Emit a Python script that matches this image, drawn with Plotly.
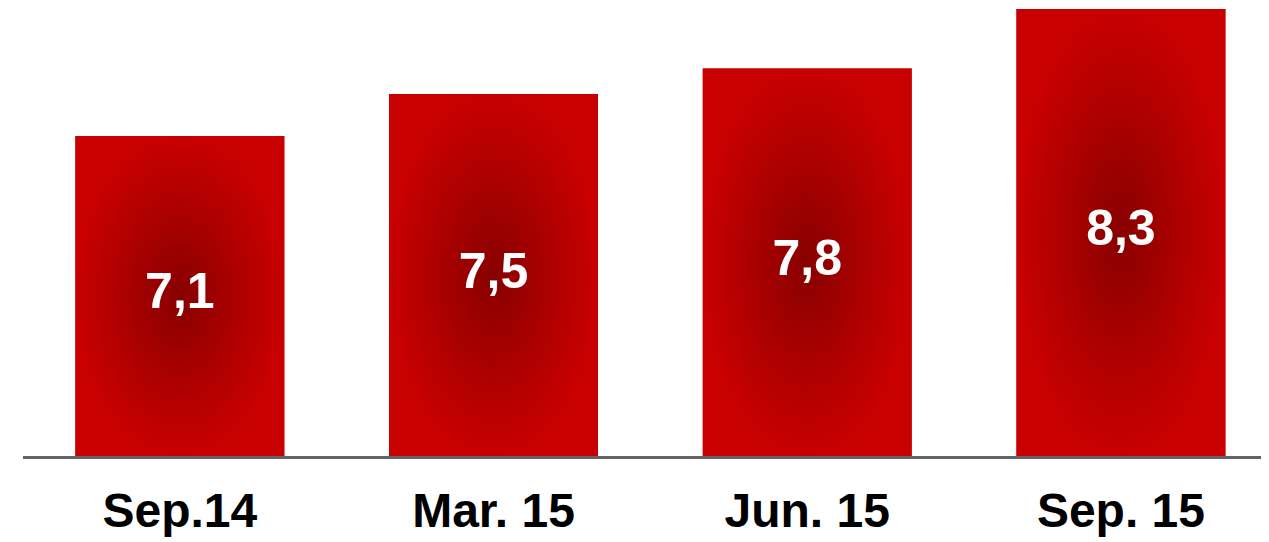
import plotly.graph_objects as go

categories = ["Sep.14", "Mar. 15", "Jun. 15", "Sep. 15"]
values = [7.15, 7.53, 7.76, 8.30]
value_labels = ["7,1", "7,5", "7,8", "8,3"]

Y_MIN = 4.251
Y_MAX = 8.309
BAR_W = 0.666
FONT = "Liberation Sans, Arial, sans-serif"

fig = go.Figure()
xs = list(range(len(categories)))

# base bars (solid)
fig.add_trace(go.Bar(
    x=xs, y=[v - Y_MIN for v in values], base=Y_MIN, width=BAR_W,
    marker=dict(color="#c40000", line=dict(width=0)),
    hoverinfo="skip", showlegend=False,
))

# radial-gradient overlays on each bar
for x, v in zip(xs, values):
    x0, x1 = x - BAR_W / 2, x + BAR_W / 2
    fig.add_trace(go.Scatter(
        x=[x0, x1, x1, x0, x0], y=[Y_MIN, Y_MIN, v, v, Y_MIN],
        mode="lines", line=dict(width=0), fill="toself",
        fillgradient=dict(type="radial",
                          colorscale=[[0, "#880000"], [0.6, "#b00000"], [1, "#c80000"]]),
        hoverinfo="skip", showlegend=False, cliponaxis=False,
    ))

# value labels centered in bars
fig.add_trace(go.Scatter(
    x=xs, y=[(Y_MIN + v) / 2 for v in values], mode="text",
    text=value_labels,
    textfont=dict(family=FONT, size=50, color="white", weight="bold"),
    hoverinfo="skip", showlegend=False,
))

fig.update_layout(
    width=1261, height=534,
    margin=dict(l=15, r=0, t=0, b=86),
    paper_bgcolor="white", plot_bgcolor="white",
    showlegend=False,
    xaxis=dict(
        range=[-0.5, 3.472], tickvals=xs, ticktext=categories,
        showgrid=False, zeroline=False,
        showline=True, linecolor="#646464", linewidth=3,
        ticks="", ticklabelstandoff=10,
        tickfont=dict(family=FONT, size=48, color="black", weight="bold"),
    ),
    yaxis=dict(range=[Y_MIN, Y_MAX], visible=False, showgrid=False, zeroline=False),
)

fig.write_html("out.html")
